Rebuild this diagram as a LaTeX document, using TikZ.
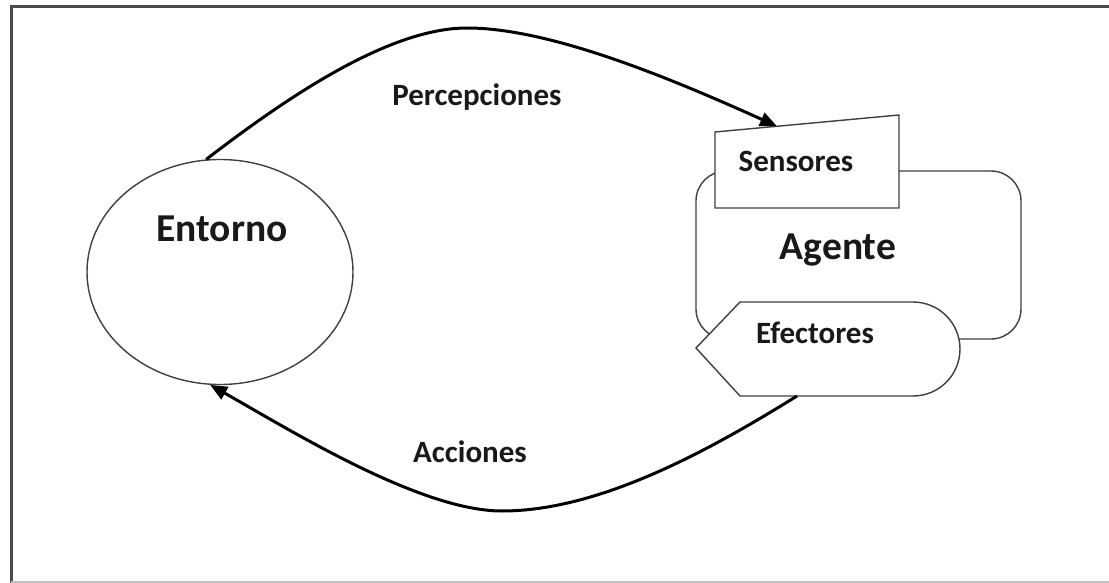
\documentclass[tikz,border=0pt]{standalone}
\usepackage{fontspec}
\setmainfont{Carlito}
\usetikzlibrary{shapes.geometric,arrows.meta,calc}
\begin{document}
\begin{tikzpicture}[x=1pt,y=-1pt,
  shapeline/.style={draw=black!75, line width=1.4pt},
  conn/.style={draw=black, line width=3pt, -{Triangle[length=17pt,width=14pt]}},
  lblbig/.style={font=\bfseries\fontsize{39.5}{42}\selectfont, text=black!90, inner sep=0pt},
  lbl/.style={font=\bfseries\fontsize{31}{36}\selectfont, text=black!90, inner sep=0pt}]
\useasboundingbox (0,0) rectangle (1109,583);
\fill[white] (0,0) rectangle (1109,583);
% frame
\draw[line width=3pt, black!70] (11,583) -- (11,7) -- (1109,7);
\draw[line width=1.5pt, black!25] (11,582) -- (1109,582);
% environment
\node[ellipse, shapeline, minimum width=266pt, minimum height=225pt, inner sep=0pt] (ent) at (220,272) {};
\node[lblbig] (entl) at (222,229) {Entorno};
% agent
\node[shapeline, rounded corners=30pt, minimum width=325pt, minimum height=168pt, inner sep=0pt] (agt) at (858.5,255) {};
\node[lblbig] (agtl) at (838,250) {Agente};
% sensors
\coordinate (sBL) at (715,208);
\coordinate (sBR) at (899,208);
\coordinate (sTR) at (899,115);
\coordinate (sTL) at (715,132);
\draw[shapeline, fill=white] (sBL) -- (sBR) -- (sTR) -- (sTL) -- cycle;
\node[lbl] (sensl) at (796,161) {Sensores};
% effectors
\coordinate (eT) at (740,302);
\coordinate (eB) at (740,396);
\coordinate (eP) at (696,348);
\draw[shapeline, fill=white] (eT) -- (913,302) arc[start angle=90, end angle=-90, radius=47pt] -- (eB) -- (eP) -- cycle;
\node[lbl] (efl) at (815,333) {Efectores};
% connectors
\coordinate (ptop) at (467,28);
\coordinate (pbot) at (502,511);
\coordinate (sin) at ($(sTL)!0.337!(sTR)$);
\coordinate (eout) at ($(eB)+(57,0)$);
\draw[conn] (ent.97) .. controls (290,95) and (390,28) .. (ptop)
  .. controls (550,28) and (670,78) .. (sin);
\draw[conn] (eout) .. controls (710,450) and (600,511) .. (pbot)
  .. controls (420,511) and (290,430) .. (ent.-95);
\node[lbl] (perl) at (477,97) {Percepciones};
\node[lbl] (accl) at (470,452) {Acciones};
\end{tikzpicture}
\end{document}
